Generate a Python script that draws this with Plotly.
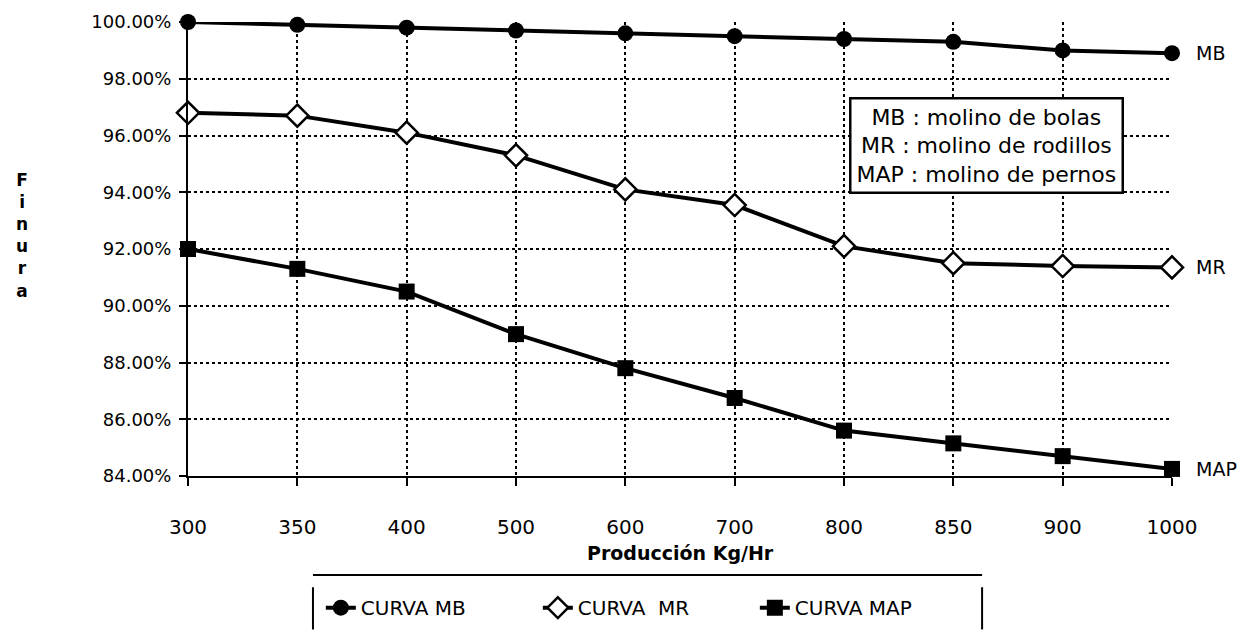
import plotly.graph_objects as go

# Production rate (Kg/Hr) categories and fineness (%) for each mill
produccion = ["300", "350", "400", "500", "600", "700", "800", "850", "900", "1000"]
finura_mb = [100.0, 99.9, 99.8, 99.7, 99.6, 99.5, 99.4, 99.3, 99.0, 98.9]
finura_mr = [96.8, 96.7, 96.1, 95.3, 94.1, 93.55, 92.1, 91.5, 91.4, 91.35]
finura_map = [92.0, 91.3, 90.5, 89.0, 87.8, 86.75, 85.6, 85.15, 84.7, 84.25]
y_ticks = [84, 86, 88, 90, 92, 94, 96, 98, 100]
y_ticktext = [f"{v:.2f}%" for v in y_ticks]

pos = list(range(len(produccion)))
FONT = "DejaVu Sans"

fig = go.Figure()
fig.add_trace(go.Scatter(
    x=pos, y=finura_mb, name="CURVA MB", mode="lines+markers",
    line=dict(color="black", width=4),
    marker=dict(symbol="circle", size=16, color="black"),
    cliponaxis=False,
))
fig.add_trace(go.Scatter(
    x=pos, y=finura_mr, name="CURVA  MR", mode="lines+markers",
    line=dict(color="black", width=4),
    marker=dict(symbol="diamond", size=17, color="white",
                line=dict(color="black", width=2.5)),
    cliponaxis=False,
))
fig.add_trace(go.Scatter(
    x=pos, y=finura_map, name="CURVA MAP", mode="lines+markers",
    line=dict(color="black", width=4),
    marker=dict(symbol="square", size=16, color="black"),
    cliponaxis=False,
))

fig.update_xaxes(
    range=[0, len(produccion) - 1], tickvals=pos, ticktext=produccion,
    showline=True, linecolor="black", linewidth=2,
    ticks="outside", ticklen=8, tickcolor="black", tickwidth=2,
    ticklabelstandoff=24,
    showgrid=True, gridcolor="black", gridwidth=1.5, griddash="dot",
    zeroline=False,
    tickfont=dict(family=FONT, size=20, color="black"),
)
fig.update_yaxes(
    range=[84, 100], tickvals=y_ticks, ticktext=y_ticktext,
    showline=True, linecolor="black", linewidth=2,
    ticks="outside", ticklen=7, tickcolor="black", tickwidth=2,
    ticklabelstandoff=4,
    showgrid=True, gridcolor="black", gridwidth=1.5, griddash="dot",
    zeroline=False,
    tickfont=dict(family=FONT, size=18, color="black"),
)

annotations = [
    # mill key box
    dict(xref="paper", yref="paper", x=0.811, y=0.727,
         text="MB : molino de bolas<br>MR : molino de rodillos<br>MAP : molino de pernos",
         showarrow=False, align="center", xanchor="center", yanchor="middle",
         font=dict(family=FONT, size=22, color="black"),
         bgcolor="white", bordercolor="black", borderwidth=2.5, borderpad=5),
    # curve end labels
    dict(xref="paper", yref="y", x=1.022, y=finura_mb[-1], text="MB",
         showarrow=False, xanchor="left", font=dict(family=FONT, size=19, color="black")),
    dict(xref="paper", yref="y", x=1.022, y=finura_mr[-1], text="MR",
         showarrow=False, xanchor="left", font=dict(family=FONT, size=19, color="black")),
    dict(xref="paper", yref="y", x=1.022, y=finura_map[-1], text="MAP",
         showarrow=False, xanchor="left", font=dict(family=FONT, size=19, color="black")),
    # vertical y title
    dict(xref="paper", yref="paper", x=-0.169, y=0.53,
         text="<b>F<br>i<br>n<br>u<br>r<br>a</b>",
         showarrow=False, xanchor="center", yanchor="middle", align="center",
         font=dict(family=FONT, size=17, color="black")),
    # x title
    dict(xref="paper", yref="paper", x=0.5, y=-0.17,
         text="<b>Producción Kg/Hr</b>",
         showarrow=False, xanchor="center", yanchor="middle",
         font=dict(family=FONT, size=19, color="black")),
]

shapes = [
    dict(type="line", xref="paper", yref="paper", x0=0.127, x1=0.807,
         y0=-0.218, y1=-0.218, line=dict(color="black", width=2)),
    dict(type="line", xref="paper", yref="paper", x0=0.127, x1=0.127,
         y0=-0.245, y1=-0.338, line=dict(color="black", width=2)),
    dict(type="line", xref="paper", yref="paper", x0=0.807, x1=0.807,
         y0=-0.245, y1=-0.338, line=dict(color="black", width=2)),
]

fig.update_layout(
    width=1253, height=639,
    margin=dict(l=188, r=81, t=22, b=159),
    paper_bgcolor="white", plot_bgcolor="white",
    font=dict(family=FONT, color="black"),
    showlegend=True,
    legend=dict(orientation="h", x=0.135, y=-0.29, xanchor="left", yanchor="middle",
                entrywidth=172, entrywidthmode="pixels",
                font=dict(family=FONT, size=20, color="black"),
                bgcolor="rgba(0,0,0,0)"),
    annotations=annotations,
    shapes=shapes,
)

fig.write_html("out.html")
